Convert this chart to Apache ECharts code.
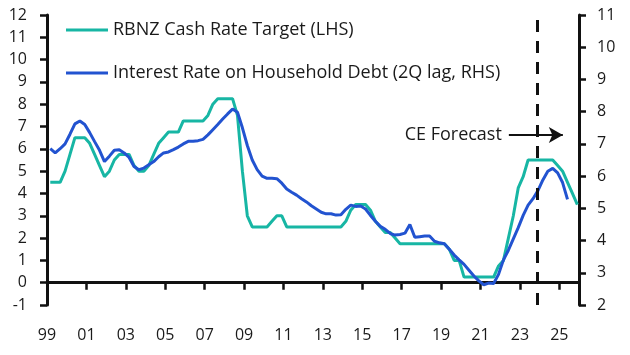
<!DOCTYPE html>
<html>
<head>
<meta charset="utf-8">
<script src="https://cdn.jsdelivr.net/npm/echarts@6/dist/echarts.min.js"></script>
<style>
html,body{margin:0;padding:0;background:#fff;}
#chart{width:630px;height:355px;}
</style>
</head>
<body>
<div id="chart"></div>
<script>
// ---- DATA ----
const startYear = 1999;           // first quarter = 1999Q1
const endYear = 2026;             // right edge of axis
const xTickYears = [1999,2001,2003,2005,2007,2009,2011,2013,2015,2017,2019,2021,2023,2025];
const leftTicks = [-1,0,1,2,3,4,5,6,7,8,9,10,11,12];
const rightTicks = [2,3,4,5,6,7,8,9,10,11];
const forecastStartYear = 2023.9;
const seriesNames = ["RBNZ Cash Rate Target (LHS)", "Interest Rate on Household Debt (2Q lag, RHS)"];
const forecastLabel = "CE Forecast";

// RBNZ cash rate target, end of quarter, 1999Q1 .. 2025Q4 (LHS)
const cashRate = [
  4.5, 4.5, 4.5, 5.0,
  5.75, 6.5, 6.5, 6.5,
  6.25, 5.75, 5.25, 4.75,
  5.0, 5.5, 5.75, 5.75,
  5.75, 5.25, 5.0, 5.0,
  5.25, 5.75, 6.25, 6.5,
  6.75, 6.75, 6.75, 7.25,
  7.25, 7.25, 7.25, 7.25,
  7.5, 8.0, 8.25, 8.25,
  8.25, 8.25, 7.5, 5.0,
  3.0, 2.5, 2.5, 2.5,
  2.5, 2.75, 3.0, 3.0,
  2.5, 2.5, 2.5, 2.5,
  2.5, 2.5, 2.5, 2.5,
  2.5, 2.5, 2.5, 2.5,
  2.75, 3.25, 3.5, 3.5,
  3.5, 3.25, 2.75, 2.5,
  2.25, 2.25, 2.0, 1.75,
  1.75, 1.75, 1.75, 1.75,
  1.75, 1.75, 1.75, 1.75,
  1.75, 1.5, 1.0, 1.0,
  0.25, 0.25, 0.25, 0.25,
  0.25, 0.25, 0.25, 0.75,
  1.0, 2.0, 3.0, 4.25,
  4.75, 5.5, 5.5, 5.5,
  5.5, 5.5, 5.5, 5.25,
  5.0, 4.5, 4.0, 3.5
];

// Interest rate on household debt, 2Q lag, 1999Q1 .. 2025Q2 (RHS)
const householdRate = [
  6.85, 6.72, 6.85, 7.0, 7.3, 7.62, 7.71, 7.6, 7.35, 7.07,
  6.8, 6.45, 6.62, 6.8, 6.82, 6.72, 6.58, 6.3, 6.2, 6.25,
  6.35, 6.45, 6.6, 6.72, 6.75, 6.82, 6.9, 7.0, 7.08, 7.08,
  7.1, 7.14, 7.28, 7.44, 7.6, 7.77, 7.93, 8.08, 7.98, 7.5,
  6.95, 6.5, 6.2, 6.0, 5.93, 5.93, 5.92, 5.78, 5.6, 5.5,
  5.41, 5.3, 5.2, 5.08, 4.98, 4.88, 4.83, 4.83, 4.79, 4.8,
  4.97, 5.1, 5.06, 5.07, 4.98, 4.78, 4.6, 4.44, 4.35, 4.22,
  4.17, 4.19, 4.23, 4.5, 4.1, 4.12, 4.14, 4.14, 3.98, 3.93,
  3.9, 3.73, 3.55, 3.4, 3.26, 3.08, 2.9, 2.75, 2.63, 2.68,
  2.67, 2.95, 3.4, 3.7, 4.05, 4.4, 4.78, 5.1, 5.3, 5.55,
  5.88, 6.15, 6.24, 6.1, 5.8, 5.28
];

// ---- BUILD ----
const TEAL = '#17B6A4', BLUE = '#2253D0', INK = '#111';
const FONT = 'Open Sans';
// quarter i -> years since startYear, placed at the quarter-end month
function qx(i){ const q = i % 4; return Math.floor(i/4) + (3*q + 2)/12; }
const tealData = cashRate.map((v,i)=>[qx(i), v]);
const blueData = householdRate.map((v,i)=>[qx(i), v]);
const xTickVals = xTickYears.map(y => y - startYear);

const axisLineStyle = {show:true, lineStyle:{color:INK, width:3}};
const tickStyle = {show:true, length:7, lineStyle:{color:INK, width:2.5}};
const labelStyle = {color:'#1a1a1a', fontSize:16, fontFamily:FONT};

const option = {
  animation:false,
  textStyle:{fontFamily:FONT},
  grid:{left:47, right:51, top:15, bottom:50, containLabel:false},
  legend:{
    orient:'vertical', left:61, top:14,
    itemWidth:42, itemHeight:3, itemGap:21, icon:'rect',
    textStyle:{fontSize:18, color:'#1a1a1a', fontFamily:FONT, lineHeight:22},
    data:seriesNames
  },
  xAxis:{
    type:'value', min:0, max:endYear-startYear,
    axisLine:axisLineStyle,
    axisTick:Object.assign({customValues:xTickVals}, tickStyle),
    axisLabel:Object.assign({customValues:xTickVals, margin:22,
      formatter:v => String((startYear + Math.round(v)) % 100).padStart(2,'0')}, labelStyle),
    splitLine:{show:false}
  },
  yAxis:[
    {type:'value', min:leftTicks[0], max:leftTicks[leftTicks.length-1], interval:1, position:'left',
      axisLine:axisLineStyle, axisTick:tickStyle,
      axisLabel:Object.assign({margin:20}, labelStyle), splitLine:{show:false}},
    {type:'value', min:rightTicks[0], max:rightTicks[rightTicks.length-1], interval:1, position:'right',
      axisLine:axisLineStyle, axisTick:tickStyle,
      axisLabel:Object.assign({margin:18}, labelStyle), splitLine:{show:false}}
  ],
  series:[
    {name:seriesNames[0], type:'line', yAxisIndex:0, data:tealData, showSymbol:false,
      lineStyle:{color:TEAL, width:3}, itemStyle:{color:TEAL},
      markLine:{silent:true, symbol:['none','arrow'], symbolSize:[12,14],
        lineStyle:{color:INK, width:2, type:'solid'},
        label:{show:true, position:'start', formatter:forecastLabel, distance:7,
          color:'#1a1a1a', fontSize:18, fontFamily:FONT},
        data:[[{coord:[23.44, 6.62]}, {coord:[26.18, 6.62]}]]
      }
    },
    {name:seriesNames[1], type:'line', yAxisIndex:1, data:blueData, showSymbol:false,
      lineStyle:{color:BLUE, width:3}, itemStyle:{color:BLUE},
      markLine:{silent:true, symbol:['none','none'],
        lineStyle:{color:INK, width:3, type:[12,9]},
        label:{show:false},
        data:[{xAxis: forecastStartYear - startYear}]
      }
    }
  ]
};
const chart = echarts.init(document.getElementById('chart'), null, {renderer:'canvas'});
chart.setOption(option);
</script>
</body>
</html>
